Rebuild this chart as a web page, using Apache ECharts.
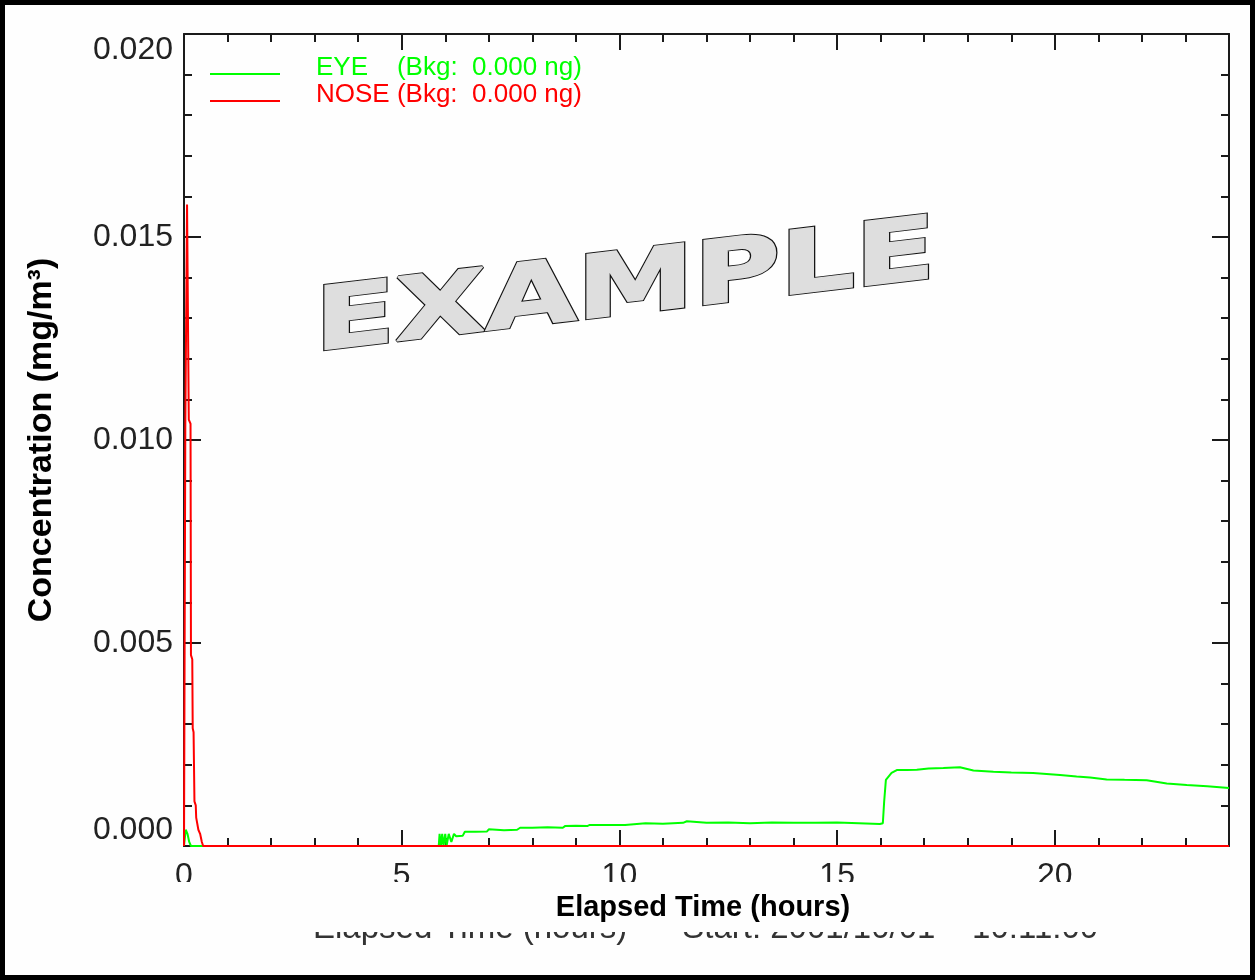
<!DOCTYPE html>
<html><head><meta charset="utf-8">
<script src="https://cdn.jsdelivr.net/npm/echarts@6/dist/echarts.min.js"></script>
<style>html,body{margin:0;padding:0;background:#fefefe}#c{width:1255px;height:980px}</style>
</head><body><div id="c"></div>
<script>
const seriesNames = ['EYE', 'NOSE'];
const seriesColors = ['#00ff00', '#ff0000'];
const legendLabels = ['EYE    (Bkg:  0.000 ng)', 'NOSE (Bkg:  0.000 ng)'];

const eyeHours = [0, 0.04, 0.08, 0.12, 0.16, 5.85, 5.87, 5.90, 5.93, 5.96,
  6.00, 6.03, 6.08, 6.14, 6.20, 6.25, 6.40, 6.45, 6.70, 6.96,
  7.00, 7.03, 7.35, 7.65, 7.72, 8.00, 8.35, 8.70, 8.75, 9.00,
  9.26, 9.32, 9.70, 10.13, 10.17, 10.60, 11.00, 11.46, 11.55, 12.00,
  12.50, 13.00, 13.50, 14.00, 14.50, 15.00, 15.50, 15.98, 16.05, 16.08,
  16.12, 16.25, 16.37, 16.60, 16.83, 17.10, 17.44, 17.82, 18.13, 18.59,
  19.00, 19.50, 20.12, 20.50, 20.81, 21.19, 21.60, 22.11, 22.57, 23.03,
  23.50, 24.00];
const eyeConc = [0, 0.0004, 0.0003, 0.0001, 0, 0, 0.0003, 0, 0.0003, 0,
  0.0003, 0, 0.0003, 0.0001, 0.0003, 0.00024, 0.00025, 0.00035, 0.00035, 0.00036,
  0.00041, 0.00039, 0.00039, 0.00040, 0.00045, 0.00045, 0.00046, 0.00045, 0.00049, 0.00050,
  0.00049, 0.00052, 0.00052, 0.00052, 0.00056, 0.00056, 0.00055, 0.00057, 0.00061, 0.00057,
  0.00058, 0.00056, 0.00058, 0.00057, 0.00057, 0.00058, 0.00056, 0.00054, 0.00056, 0.00109,
  0.00163, 0.00180, 0.00187, 0.00187, 0.00188, 0.00191, 0.00192, 0.00194, 0.00186, 0.00183,
  0.00181, 0.00180, 0.00175, 0.00171, 0.00169, 0.00164, 0.00163, 0.00162, 0.00154, 0.00150,
  0.00147, 0.00143];

const noseHours = [0, 0.03, 0.07, 0.10, 0.11, 0.15, 0.16, 0.19, 0.20, 0.22,
  0.24, 0.27, 0.28, 0.31, 0.33, 0.37, 0.41, 0.44, 24];
const noseConc = [0, 0.0103, 0.0158, 0.0158, 0.0105, 0.0104, 0.0047, 0.0046, 0.0029, 0.0028,
  0.0011, 0.0010, 0.0007, 0.0007, 0.0004, 0.0003, 0.0001, 0, 0];

const xAxisTitle = 'Elapsed Time (hours)';
const yAxisTitle = 'Concentration (mg/m³)';
const footerText = 'Elapsed Time (hours)      Start: 2001/10/01    10:11:00';
const watermarkText = 'EXAMPLE';

const FONT = "'Liberation Sans', Arial, sans-serif";
const AX = '#1a1a1a';

function zip(xs, ys) { return xs.map((x, i) => [x, ys[i]]); }

function xAx(pos, interval, len, labels, line) {
  return {
    type: 'value', position: pos, min: 0, max: 24, interval: interval,
    axisLine: { show: line, onZero: false, lineStyle: { color: AX, width: 2 } },
    axisTick: { show: true, inside: true, length: len, lineStyle: { color: AX, width: 2 } },
    axisLabel: {
      show: labels, margin: 14, fontSize: 32, fontFamily: FONT, color: '#222',
      showMaxLabel: false,
      formatter: v => (v % 5 === 0 ? String(v) : '')
    },
    splitLine: { show: false }
  };
}
function yAx(pos, labels) {
  return {
    type: 'value', position: pos, min: 0, max: 0.02, interval: 0.005,
    name: labels ? yAxisTitle : '',
    nameLocation: 'middle', nameRotate: 90, nameGap: 125,
    nameTextStyle: { fontSize: 34, fontWeight: 'bold', fontFamily: FONT, color: '#000' },
    axisLine: { show: true, onZero: false, lineStyle: { color: AX, width: 2 } },
    axisTick: { show: true, inside: true, length: 17, lineStyle: { color: AX, width: 2 } },
    minorTick: { show: true, splitNumber: 5, length: 8, lineStyle: { color: AX, width: 2 } },
    axisLabel: {
      show: labels, margin: 11, fontSize: 32, fontFamily: FONT, color: '#222',
      verticalAlignMinLabel: 'bottom', verticalAlignMaxLabel: 'top',
      formatter: v => v.toFixed(3)
    },
    splitLine: { show: false }
  };
}

const wmBase = { x: 625, y: 291, skewY: 0.118, scaleX: 1.4, scaleY: 1.04 };
const wmFont = "bold 84px 'DejaVu Sans'";

const chart = echarts.init(document.getElementById('c'), null, { renderer: 'canvas' });
chart.setOption({
  animation: false,
  backgroundColor: '#fefefe',
  grid: { left: 184, right: 26, top: 34, bottom: 134, containLabel: false, outerBoundsMode: 'none' },
  xAxis: [
    xAx('bottom', 5, 16, true, true),
    xAx('bottom', 1, 8, false, false),
    xAx('top', 5, 16, false, true),
    xAx('top', 1, 8, false, false)
  ],
  yAxis: [yAx('left', true), yAx('right', false)],
  legend: {
    left: 210, top: 55, orient: 'vertical', padding: 0, itemGap: 1,
    itemWidth: 70, itemHeight: 24,
    icon: 'path://M0,0L0.01,0L0.01,0.01ZM0,17L70,17L70,19L0,19ZM0,24L0.01,24L0.01,23.99Z',
    selectedMode: false,
    data: seriesNames.map((n, i) => ({ name: n, textStyle: { color: seriesColors[i] } })),
    formatter: n => legendLabels[seriesNames.indexOf(n)],
    textStyle: { fontSize: 26, fontFamily: FONT, padding: [0, 0, 0, 31] }
  },
  series: [
    { name: seriesNames[0], type: 'line', xAxisIndex: 0, yAxisIndex: 0, showSymbol: false, symbol: 'none',
      color: seriesColors[0], lineStyle: { color: seriesColors[0], width: 2 }, data: zip(eyeHours, eyeConc) },
    { name: seriesNames[1], type: 'line', xAxisIndex: 0, yAxisIndex: 0, showSymbol: false, symbol: 'none',
      color: seriesColors[1], lineStyle: { color: seriesColors[1], width: 2 }, data: zip(noseHours, noseConc) }
  ],
  graphic: [
    Object.assign({ type: 'text', z: 10 }, wmBase, {
      style: { text: watermarkText, x: 0, y: 0, textAlign: 'center', textVerticalAlign: 'middle',
        font: wmFont, fill: '#111', stroke: '#111', lineWidth: 3.4, lineJoin: 'miter' } }),
    Object.assign({ type: 'text', z: 11 }, wmBase, {
      style: { text: watermarkText, x: 0, y: 0, textAlign: 'center', textVerticalAlign: 'middle',
        font: wmFont, fill: '#dedede', stroke: '#dedede', lineWidth: 1.6, lineJoin: 'miter' } }),
    { type: 'text', z: 20, x: 313, y: 929,
      style: { text: footerText, textAlign: 'left', textVerticalAlign: 'middle',
        font: "33px 'Liberation Sans'", fill: '#333' } },
    { type: 'rect', z: 30, shape: { x: 5, y: 882, width: 1245, height: 50 },
      style: { fill: '#fefefe' } },
    { type: 'text', z: 40, x: 703, y: 908,
      style: { text: xAxisTitle, textAlign: 'center', textVerticalAlign: 'middle',
        font: "bold 29px 'Liberation Sans'", fill: '#000' } },
    { type: 'rect', z: 100, shape: { x: 2.5, y: 2.5, width: 1250, height: 975 },
      style: { fill: 'none', stroke: '#000', lineWidth: 5 } }
  ]
});
</script>
</body></html>
